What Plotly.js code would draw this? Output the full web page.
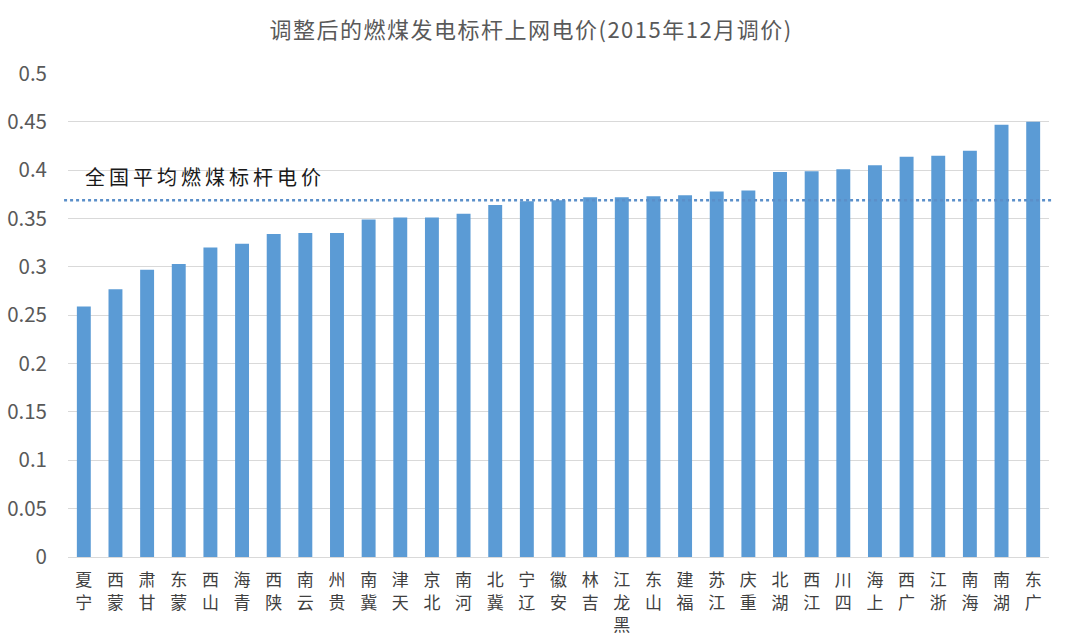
<!DOCTYPE html>
<html>
<head>
<meta charset="utf-8">
<script src="https://cdn.plot.ly/plotly-3.0.1.min.js"></script>
<style>
  html, body { margin: 0; padding: 0; background: #ffffff; }
  #chart { width: 1071px; height: 641px; }
  .gtitle { letter-spacing: 1.5px; }
  .annotation-text { letter-spacing: 4px; }
</style>
</head>
<body>
<div id="chart"></div>
<script>
// ---- data ----
const chartTitle = '调整后的燃煤发电标杆上网电价(2015年12月调价)';
const categories = ['宁夏','蒙西','甘肃','蒙东','山西','青海','陕西','云南','贵州','冀南',
  '天津','北京','河南','冀北','辽宁','安徽','吉林','黑龙江','山东','福建',
  '江苏','重庆','湖北','江西','四川','上海','广西','浙江','海南','湖南','广东'];
const prices = [0.259,0.277,0.297,0.303,0.320,0.324,0.334,0.335,0.335,0.349,
  0.351,0.351,0.355,0.364,0.368,0.369,0.372,0.372,0.373,0.374,
  0.378,0.379,0.398,0.399,0.401,0.405,0.414,0.415,0.420,0.447,0.450];
const nationalAverage = 0.369;
const averageLabel = '全国平均燃煤标杆电价';
const yTickVals = [0,0.05,0.1,0.15,0.2,0.25,0.3,0.35,0.4,0.45,0.5];
const yTickText = ['0','0.05','0.1','0.15','0.2','0.25','0.3','0.35','0.4','0.45','0.5'];

// stacked, upright characters reading bottom-to-top (as in the source)
const xTickText = categories.map(c => Array.from(c).reverse().join('<br>'));

const FONT = '"Noto Sans CJK SC", "Noto Sans", sans-serif';
const TICKFONT = '"Liberation Sans", "Noto Sans CJK SC", sans-serif';

const trace = {
  type: 'bar',
  x: categories,
  y: prices,
  marker: { color: '#5b9bd5', line: { width: 0 } },
  hoverinfo: 'x+y'
};

const layout = {
  width: 1071,
  height: 641,
  margin: { l: 68, r: 22, t: 73, b: 84, pad: 0 },
  paper_bgcolor: '#ffffff',
  plot_bgcolor: '#ffffff',
  showlegend: false,
  bargap: 0.56,
  font: { family: FONT, color: '#595959' },
  title: {
    text: chartTitle,
    font: { family: FONT, size: 22, color: '#595959' },
    x: 0.472, xref: 'paper', xanchor: 'center',
    y: 0.953, yref: 'container', yanchor: 'middle'
  },
  xaxis: {
    type: 'category',
    range: [-0.5, categories.length - 0.5],
    tickmode: 'array',
    tickvals: categories,
    ticktext: xTickText,
    tickfont: { family: TICKFONT, size: 17, color: '#404040' },
    ticks: '',
    ticklabelstandoff: 8,
    showgrid: false,
    showline: true,
    linecolor: '#d9d9d9',
    linewidth: 1,
    zeroline: false,
    fixedrange: true
  },
  yaxis: {
    range: [0, 0.5005],
    tickmode: 'array',
    tickvals: yTickVals,
    ticktext: yTickText,
    tickfont: { family: FONT, size: 20.5, color: '#595959' },
    ticks: '',
    ticklabelstandoff: 20,
    showgrid: true,
    gridcolor: '#d9d9d9',
    gridwidth: 1,
    zeroline: false,
    showline: false,
    fixedrange: true
  },
  shapes: [{
    type: 'line',
    xref: 'paper', yref: 'y',
    x0: -0.004, x1: 1.003,
    y0: nationalAverage, y1: nationalAverage,
    line: { color: '#5b8fc9', width: 2.5, dash: 'dot' },
    layer: 'above'
  }],
  annotations: [{
    text: averageLabel,
    xref: 'paper', yref: 'y',
    x: 0.015, y: nationalAverage,
    xanchor: 'left', yanchor: 'bottom',
    yshift: 7,
    showarrow: false,
    font: { family: FONT, size: 20, color: '#1a1a1a' }
  }]
};

Plotly.newPlot('chart', [trace], layout, { displayModeBar: false, staticPlot: true });
</script>
</body>
</html>
